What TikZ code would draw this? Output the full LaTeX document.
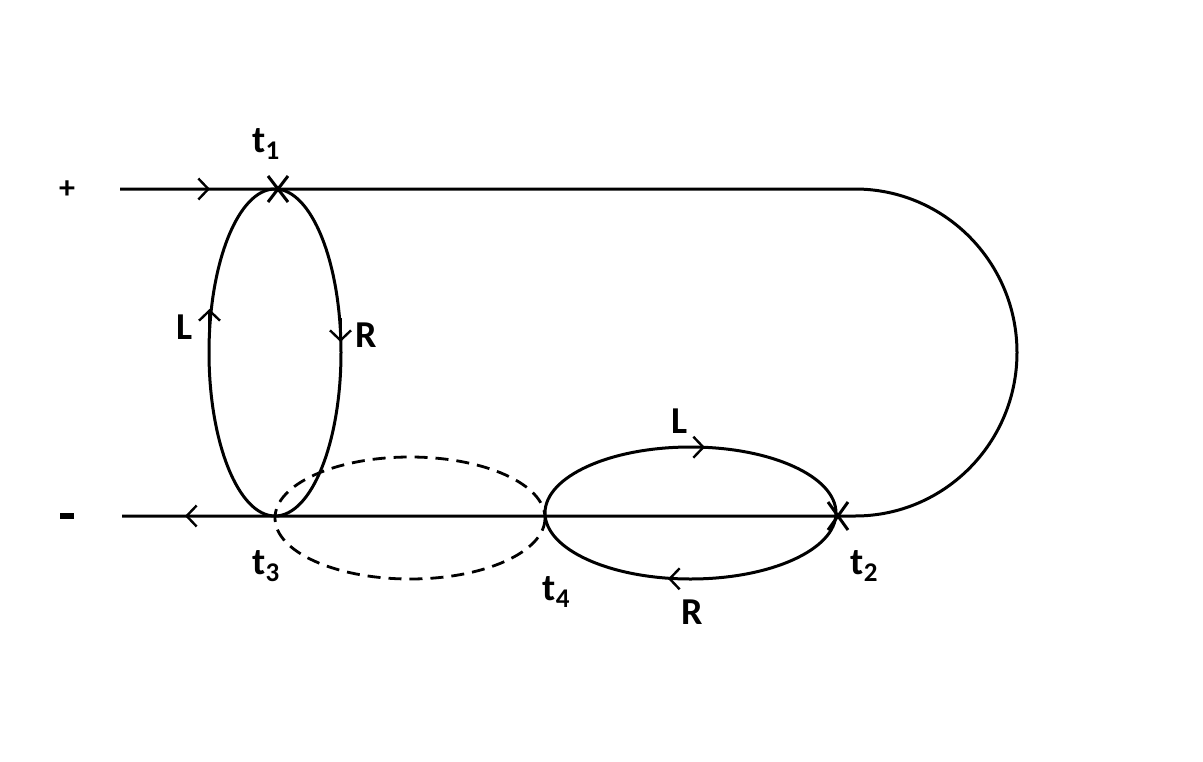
\documentclass[tikz,border=0pt]{standalone}
\usepackage{fontspec}
\setmainfont{Carlito}
\setsansfont{Carlito}
\usetikzlibrary{arrows.meta,calc}
\newcommand{\lsub}[1]{\raisebox{-0.4ex}{\fontsize{27}{27}\selectfont #1}}
\tikzset{
  curve/.style={line width=3pt},
  dashcurve/.style={line width=2.8pt, dash pattern=on 13pt off 8pt},
  barb/.style={line width=2.4pt, -{Straight Barb[length=10pt,width=21pt,line width=2.4pt]}},
  lbl/.style={font=\bfseries\fontsize{38}{44}\selectfont, inner sep=0pt},
  sgn/.style={font=\bfseries\fontsize{32}{38}\selectfont, inner sep=0pt},
  xmark/.style={line width=3pt}
}
\begin{document}
\begin{tikzpicture}[x=1pt,y=-1pt]
\useasboundingbox (0,0) rectangle (1203,761);
% coordinates
\coordinate (A) at (120,189);
\coordinate (B) at (855,189);
\coordinate (C) at (855,516);
\coordinate (D) at (122,516);
\coordinate (T1) at (278,189);
\coordinate (T2) at (838,516);
% main lines and right bend
\draw[curve] (A) -- (B) arc[start angle=-90, end angle=90, x radius=162, y radius=163.5] -- (D);
% left ellipse
\draw[curve] (275,352.5) ellipse[x radius=66, y radius=163.5];
% dashed ellipse
\draw[dashcurve] (410,518) ellipse[x radius=135, y radius=61];
% right ellipse
\draw[curve] (690.5,513) ellipse[x radius=145.5, y radius=66];
% X marks
\draw[xmark] ($(T1)+(-10,-13)$) -- ($(T1)+(10,13)$);
\draw[xmark] ($(T1)+(10,-13)$) -- ($(T1)+(-10,13)$);
\draw[xmark] ($(T2)+(-10,-14)$) -- ($(T2)+(10,14)$);
\draw[xmark] ($(T2)+(10,-14)$) -- ($(T2)+(-10,14)$);
% arrows
\coordinate (a1s) at (190,189); \coordinate (a1e) at (210,189);
\draw[barb] (a1s) -- (a1e);
\coordinate (a2s) at (205,516); \coordinate (a2e) at (185,516);
\draw[barb] (a2s) -- (a2e);
\coordinate (a3s) at (209.5,330); \coordinate (a3e) at (209.5,309);
\draw[barb] (a3s) -- (a3e);
\coordinate (a4s) at (340.5,318); \coordinate (a4e) at (340.5,342);
\draw[barb] (a4s) -- (a4e);
\coordinate (a5s) at (685,447.2); \coordinate (a5e) at (705,447.2);
\draw[barb] (a5s) -- (a5e);
\coordinate (a6s) at (688,578.8); \coordinate (a6e) at (668,578.8);
\draw[barb] (a6s) -- (a6e);
% labels
\node[sgn] (plus) at (67,190) {+};
\fill (60,513) rectangle (74,519);
\node[lbl] (t1) at (266,144) {t\lsub{1}};
\node[lbl] (t2) at (864,566) {t\lsub{2}};
\node[lbl] (t3) at (266,566) {t\lsub{3}};
\node[lbl] (t4) at (556,592) {t\lsub{4}};
\node[lbl] (L1) at (185,327) {L};
\node[lbl] (R1) at (366,335) {R};
\node[lbl] (L2) at (680,421) {L};
\node[lbl] (R2) at (692,612) {R};
\end{tikzpicture}
\end{document}
